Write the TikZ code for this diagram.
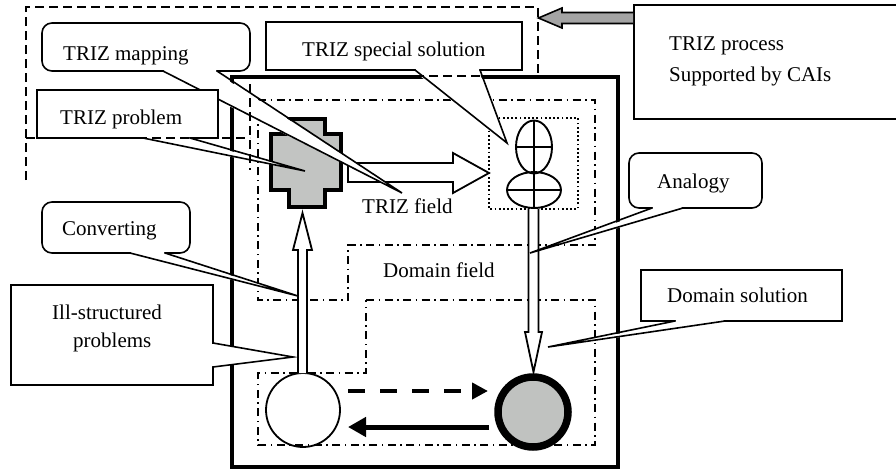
\documentclass[tikz,border=0pt]{standalone}
\usepackage{fontspec}
\setmainfont{Liberation Serif}
\usetikzlibrary{arrows.meta,calc,shapes.geometric}
\definecolor{crossgray}{HTML}{C2C4C2}
\definecolor{circgray}{HTML}{C0C2C0}
\definecolor{arrgray}{HTML}{A4A4A4}
\begin{document}
\begin{tikzpicture}[x=1pt,y=-1pt,
  lbl/.style={font=\fontsize{21}{25}\selectfont, inner sep=0pt, anchor=base west},
  callbox/.style={draw=black, fill=white, line width=1.6pt},
  wedge/.style={draw=black, line width=1.6pt, line join=miter},
  dashbox/.style={line width=1.6pt, dash pattern=on 9pt off 5pt},
  dashdot/.style={line width=1.4pt, dash pattern=on 8pt off 4.5pt on 1.5pt off 4.5pt},
  hollow/.style={draw=black, fill=white, line width=1.8pt, line join=miter},
  figline/.style={line width=1.9pt},
]
\useasboundingbox (0,0) rectangle (896,471);

% fields (dash-dot)
\draw[dashdot] (258,100) -- (595,100) -- (595,245) -- (348,245) -- (348,300) -- (258,300) -- cycle;
\draw[dashdot] (366,300) -- (595,300) -- (595,445) -- (258,445) -- (258,373) -- (366,373) -- cycle;

% main thick frame
\draw[line width=3.5pt] (232,77) rectangle (618,467);

% dotted solution box
\draw[line width=1.8pt, dash pattern=on 1.8pt off 2.4pt] (489,118) rectangle (578,209);

% person figure (TRIZ special solution)
\node[draw, ellipse, line width=1.9pt, minimum width=36pt, minimum height=53pt, inner sep=0pt] (head) at (534,147) {};
\node[draw, ellipse, line width=1.9pt, minimum width=54pt, minimum height=36pt, inner sep=0pt] (body) at (534,190) {};
\draw[figline] (head.north) -- (body.south);
\draw[figline] (head.west) -- (head.east);
\draw[figline] (body.west) -- (body.east);

% TRIZ problem (cross shape)
\coordinate (cross) at (306,163);
\draw[line width=3.3pt, fill=crossgray, line join=miter]
  (289,119) -- (325,119) -- (325,134) -- (341,134) -- (341,190) -- (325,190)
  -- (325,207) -- (289,207) -- (289,190) -- (271,190) -- (271,134) -- (289,134) -- cycle;

% circles
\node[circle, draw, line width=1.8pt, minimum size=74pt, inner sep=0pt] (ill) at (303,410) {};
\node[circle, draw, fill=circgray, line width=7.5pt, minimum size=70pt, inner sep=0pt] (dsol) at (533,412) {};

% hollow arrow: TRIZ field (right)
\draw[hollow] (348,163) -- (453,163) -- (453,153) -- (489,173) -- (453,193) -- (453,182) -- (348,182) -- cycle;

% hollow arrow: converting (up)
\draw[hollow] (298,373) -- (298,250) -- (293,250) -- (302.5,213) -- (312,250) -- (307,250) -- (307,373);

% hollow arrow: analogy (down)
\draw[hollow] (528.5,209) -- (528.5,332) -- (525,332) -- (533.5,372) -- (542,332) -- (538.5,332) -- (538.5,209);

% bottom arrows between circles
\coordinate (da1) at (348,391);
\coordinate (da2) at (488,391);
\coordinate (sa1) at (489,427);
\coordinate (sa2) at (348,427);
\draw[line width=4.5pt, dash pattern=on 17pt off 15pt, -{Triangle[length=16pt,width=16pt]}] (da1) -- (da2);
\draw[line width=5pt, -{Triangle[length=18pt,width=19pt]}] (sa1) -- (sa2);

% texts in fields
\node[lbl] (tfield) at (362,213) {TRIZ field};
\node[lbl] (dfield) at (383,277) {Domain field};

% ---- callouts ----
% TRIZ mapping
\draw[callbox, rounded corners=10pt] (42,23) rectangle (250,71);
\coordinate (tmapTip) at (402,193);
\fill[white] (164,69) -- (216,69) -- (216.5,73) -- (tmapTip) -- (163.5,73) -- cycle;
\draw[wedge] (163,71) -- (tmapTip) -- (217,71);
\node[lbl] (tmap) at (63,60) {TRIZ mapping};

% TRIZ special solution
\draw[callbox] (266,22) rectangle (522,70);
\coordinate (tssTip) at (507,143);
\fill[white] (416,68.5) -- (479,68.5) -- (479.5,72.5) -- (tssTip) -- (415.5,72.5) -- cycle;
\draw[wedge] (415,70) -- (tssTip) -- (480,70);
\node[lbl] (tss) at (302,56) {TRIZ special solution};

% TRIZ problem
\draw[callbox] (37,90) rectangle (218,138);
\coordinate (tprTip) at (305,171);
\fill[white] (144,136.5) -- (189,136.5) -- (189.5,140) -- (tprTip) -- (143.5,140) -- cycle;
\draw[wedge] (143,138) -- (tprTip) -- (190,138);
\node[lbl] (tpr) at (60,124) {TRIZ problem};

% Converting
\draw[callbox, rounded corners=10pt] (42,202) rectangle (190,253);
\coordinate (convTip) at (298,296);
\fill[white] (131,251) -- (164,251) -- (164.5,255) -- (convTip) -- (130.5,255) -- cycle;
\draw[wedge] (130,253) -- (convTip) -- (165,253);
\node[lbl] (conv) at (62,235) {Converting};

% Ill-structured problems
\draw[callbox] (11,285) rectangle (213,385);
\coordinate (illTip) at (293,357);
\fill[white] (211.5,344) -- (215,344) -- (illTip) -- (215,366) -- (211.5,366) -- cycle;
\draw[wedge] (213,343) -- (illTip) -- (213,367);
\node[lbl] (illA) at (52,319) {Ill-structured};
\node[lbl] (illB) at (73,347.5) {problems};

% Analogy
\draw[callbox, rounded corners=10pt] (629,153) rectangle (762,208);
\coordinate (anTip) at (530,253);
\fill[white] (653,206) -- (682,206) -- (681,210) -- (anTip) -- (652.5,210) -- cycle;
\draw[wedge] (652,208) -- (anTip) -- (683,208);
\node[lbl] (anal) at (657,188) {Analogy};

% Domain solution
\draw[callbox] (641,270) rectangle (842,321);
\coordinate (dsTip) at (548,347);
\fill[white] (676,319) -- (724,319) -- (723,323) -- (dsTip) -- (675.5,323) -- cycle;
\draw[wedge] (675,321) -- (dsTip) -- (725,321);
\node[lbl] (dsl) at (667,302) {Domain solution};

% dashed TRIZ-process outline
\draw[dashbox] (26,180) -- (26,7) -- (538,7) -- (538,76) -- (250,76) -- (250,170);
\draw[dashbox] (26,138) -- (250,138);

% TRIZ process box and grey arrow
\draw[line width=2pt, fill=white] (634,5) rectangle (905,119);
\node[lbl] (tp1) at (669,50) {TRIZ process};
\node[lbl] (tp2) at (669,81.5) {Supported by CAIs};
\draw[line width=1.6pt, fill=arrgray, line join=miter]
  (633,12.5) -- (562,12.5) -- (562,8) -- (538.5,18) -- (562,28) -- (562,23.5) -- (633,23.5);
\end{tikzpicture}
\end{document}
